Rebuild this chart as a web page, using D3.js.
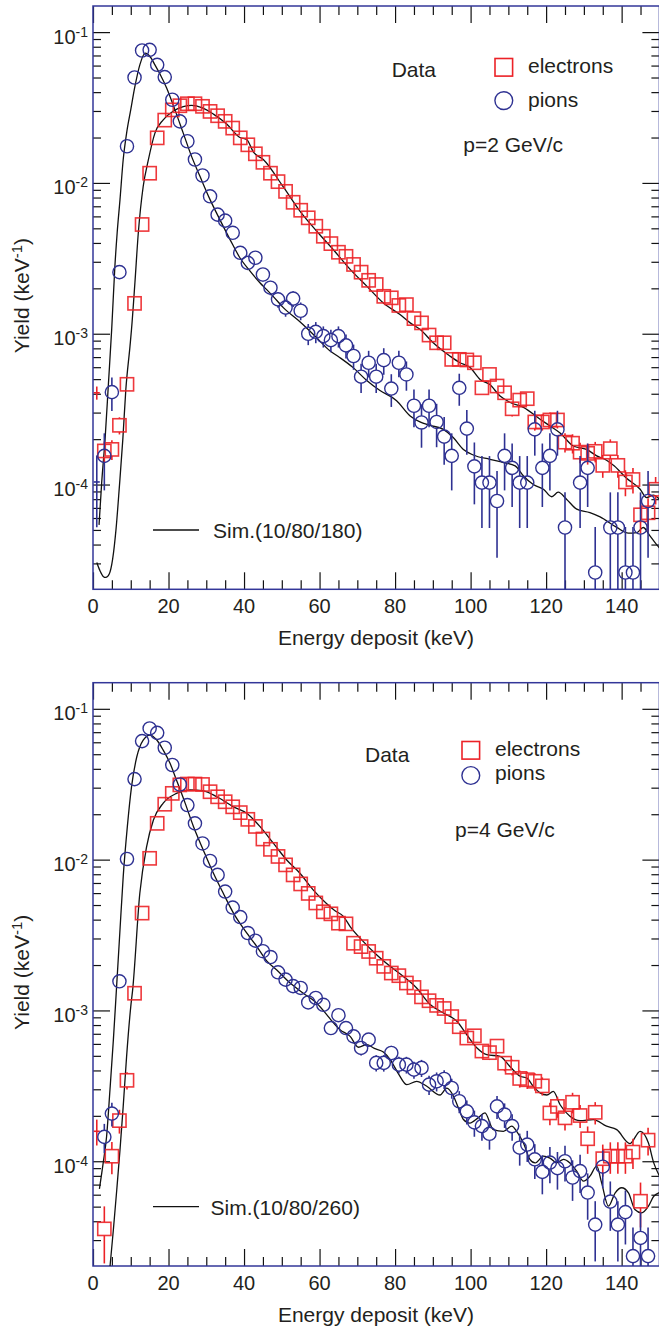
<!DOCTYPE html>
<html><head><meta charset="utf-8">
<script src="https://cdn.jsdelivr.net/npm/d3@7"></script>
<style>
body{margin:0;background:#fff}
svg{display:block}
text{font-family:"Liberation Sans",Arial,Helvetica,sans-serif;fill:#231f20}
</style>
</head><body>
<script>
// ---------------- DATA ----------------
const xDomain = [0, 150];
const yDomain = [2.02e-5, 0.149];
const xMajorTicks = [0, 20, 40, 60, 80, 100, 120, 140];
const xTickLabels = ["0", "20", "40", "60", "80", "100", "120", "140"];
const yMajorTicks = [1e-4, 1e-3, 1e-2, 1e-1];
const yTickExponents = ["-4", "-3", "-2", "-1"];
const xTitle = "Energy deposit (keV)";
const yTitle = "Yield (keV";
const legendData = "Data";
const seriesNames = ["electrons", "pions"];
const momentumLabels = ["p=2 GeV/c", "p=4 GeV/c"];
const simLabels = ["Sim.(10/80/180)", "Sim.(10/80/260)"];

// [energy keV, yield, relative error]
const pions1 = [[1,1.04e-4,0.5],[3,1.55e-4,0.41],[5,4.1e-4,0.25],[7,2.56e-3,0.1],[9,1.75e-2,0.04],[11,5.0e-2,0.023],[13,7.55e-2,0.019],[15,7.63e-2,0.018],[17,6.07e-2,0.021],[19,5.03e-2,0.023],[21,3.56e-2,0.027],[23,2.56e-2,0.032],[25,1.89e-2,0.037],[27,1.43e-2,0.043],[29,1.12e-2,0.048],[31,8.15e-3,0.056],[33,6.16e-3,0.065],[35,5.62e-3,0.068],[37,4.67e-3,0.075],[39,3.44e-3,0.087],[41,2.95e-3,0.094],[43,3.19e-3,0.09],[45,2.47e-3,0.1],[47,2.02e-3,0.11],[49,1.69e-3,0.12],[51,1.49e-3,0.13],[53,1.71e-3,0.12],[55,1.42e-3,0.135],[57,1.0e-3,0.16],[59,1.03e-3,0.16],[61,9.64e-4,0.16],[63,9.07e-4,0.17],[65,9.64e-4,0.16],[67,8.37e-4,0.18],[69,7.12e-4,0.19],[71,5.19e-4,0.22],[73,6.42e-4,0.2],[75,5.19e-4,0.22],[77,6.68e-4,0.2],[79,4.33e-4,0.245],[81,6.42e-4,0.2],[83,5.37e-4,0.22],[85,3.33e-4,0.28],[87,2.58e-4,0.32],[89,3.33e-4,0.28],[91,2.6e-4,0.32],[93,2.08e-4,0.35],[95,1.55e-4,0.41],[97,4.38e-4,0.24],[99,2.35e-4,0.33],[101,1.32e-4,0.44],[103,1.03e-4,0.5],[105,1.03e-4,0.5],[107,7.78e-5,0.58],[109,1.55e-4,0.41],[111,1.29e-4,0.45],[113,1.03e-4,0.5],[115,1.03e-4,0.5],[117,2.32e-4,0.33],[119,1.29e-4,0.45],[121,1.55e-4,0.41],[123,2.32e-4,0.33],[125,5.19e-5,0.71],[129,1.03e-4,0.5],[131,1.29e-4,0.45],[133,2.61e-5,1.0],[137,5.19e-5,0.71],[139,5.19e-5,0.71],[141,2.61e-5,1.0],[143,2.61e-5,1.0],[145,5.19e-5,0.71],[147,7.78e-5,0.58]];

const electrons1 = [[1,4.06e-4,0.1],[3,1.67e-4,0.155],[5,1.71e-4,0.15],[7,2.47e-4,0.13],[9,4.62e-4,0.093],[11,1.59e-3,0.05],[13,5.3e-3,0.027],[15,1.16e-2,0.019],[17,1.99e-2,0.014],[19,2.61e-2,0.012],[21,3.05e-2,0.011],[23,3.25e-2,0.011],[25,3.35e-2,0.011],[27,3.35e-2,0.011],[29,3.22e-2,0.011],[31,2.98e-2,0.012],[33,2.79e-2,0.012],[35,2.56e-2,0.013],[37,2.31e-2,0.013],[39,1.99e-2,0.014],[41,1.79e-2,0.015],[43,1.56e-2,0.016],[45,1.37e-2,0.017],[47,1.16e-2,0.019],[49,1.02e-2,0.02],[51,8.79e-3,0.021],[53,7.44e-3,0.023],[55,6.59e-3,0.025],[57,5.87e-3,0.026],[59,5.16e-3,0.028],[61,4.43e-3,0.03],[63,3.96e-3,0.032],[65,3.47e-3,0.034],[67,3.26e-3,0.035],[69,2.88e-3,0.037],[71,2.56e-3,0.04],[73,2.26e-3,0.042],[75,2.12e-3,0.043],[77,1.77e-3,0.048],[79,1.73e-3,0.048],[81,1.54e-3,0.051],[83,1.56e-3,0.051],[85,1.26e-3,0.056],[87,1.18e-3,0.058],[89,9.8e-4,0.064],[91,8.71e-4,0.068],[93,8.71e-4,0.068],[95,6.76e-4,0.077],[97,6.76e-4,0.077],[99,6.7e-4,0.077],[101,6.42e-4,0.079],[103,4.38e-4,0.096],[105,5.37e-4,0.086],[107,4.5e-4,0.094],[109,4.06e-4,0.099],[111,3.18e-4,0.11],[113,3.63e-4,0.105],[115,3.71e-4,0.104],[117,2.6e-4,0.124],[119,2.6e-4,0.124],[121,2.68e-4,0.122],[123,2.68e-4,0.122],[125,1.91e-4,0.145],[127,1.88e-4,0.146],[129,1.64e-4,0.156],[131,1.61e-4,0.158],[133,1.66e-4,0.155],[135,1.34e-4,0.173],[137,1.73e-4,0.152],[139,1.34e-4,0.173],[141,1.04e-4,0.196],[143,1.08e-4,0.192],[145,6.3e-5,0.25],[147,6.5e-5,0.248],[149,9.3e-5,0.207]];

const pions2 = [[3,1.45e-4,0.22],[5,2.07e-4,0.18],[7,1.56e-3,0.067],[9,1.01e-2,0.026],[11,3.42e-2,0.014],[13,6.11e-2,0.011],[15,7.41e-2,0.01],[17,6.93e-2,0.01],[19,5.52e-2,0.011],[21,4.24e-2,0.013],[23,3.15e-2,0.015],[25,2.3e-2,0.017],[27,1.74e-2,0.02],[29,1.28e-2,0.023],[31,9.8e-3,0.027],[33,7.92e-3,0.03],[35,6.14e-3,0.034],[37,4.81e-3,0.038],[39,4.16e-3,0.041],[41,3.26e-3,0.046],[43,2.9e-3,0.049],[45,2.47e-3,0.053],[47,2.26e-3,0.056],[49,1.79e-3,0.063],[51,1.6e-3,0.066],[53,1.45e-3,0.069],[55,1.41e-3,0.07],[57,1.13e-3,0.079],[59,1.21e-3,0.076],[61,1.09e-3,0.08],[63,7.64e-4,0.096],[65,9.3e-4,0.087],[67,7.64e-4,0.096],[69,6.73e-4,0.1],[71,5.64e-4,0.11],[73,6.4e-4,0.105],[75,4.49e-4,0.125],[77,4.49e-4,0.125],[79,5.22e-4,0.116],[81,4.37e-4,0.127],[83,4.37e-4,0.127],[85,4.05e-4,0.13],[87,4.16e-4,0.13],[89,3.22e-4,0.147],[91,3.39e-4,0.144],[93,3.51e-4,0.141],[95,3.06e-4,0.151],[97,2.5e-4,0.167],[99,2.14e-4,0.18],[101,1.81e-4,0.197],[103,1.71e-4,0.2],[105,1.52e-4,0.215],[107,2.31e-4,0.174],[109,2.04e-4,0.185],[111,1.71e-4,0.2],[113,1.23e-4,0.24],[115,1.29e-4,0.233],[117,1.03e-4,0.26],[119,8.5e-5,0.29],[121,9.8e-5,0.27],[123,9.0e-5,0.28],[125,1.0e-4,0.265],[127,7.8e-5,0.3],[129,8.6e-5,0.285],[131,6.2e-5,0.34],[133,3.8e-5,0.43],[135,9.2e-5,0.28],[137,5.4e-5,0.36],[139,3.8e-5,0.43],[141,4.6e-5,0.39],[143,2.35e-5,0.55],[145,3.1e-5,0.48],[147,2.35e-5,0.55]];

const electrons2 = [[1,1.58e-4,0.195],[3,3.56e-5,0.41],[5,1.08e-4,0.24],[7,1.86e-4,0.18],[9,3.44e-4,0.13],[11,1.3e-3,0.068],[13,4.42e-3,0.037],[15,1.02e-2,0.024],[17,1.74e-2,0.019],[19,2.33e-2,0.016],[21,2.75e-2,0.015],[23,3.13e-2,0.014],[25,3.17e-2,0.014],[27,3.17e-2,0.014],[29,3.15e-2,0.014],[31,2.82e-2,0.015],[33,2.61e-2,0.015],[35,2.42e-2,0.016],[37,2.24e-2,0.016],[39,2.05e-2,0.017],[41,1.85e-2,0.018],[43,1.66e-2,0.019],[45,1.37e-2,0.021],[47,1.17e-2,0.023],[49,1.05e-2,0.024],[51,9.23e-3,0.025],[53,7.92e-3,0.028],[55,6.9e-3,0.029],[57,5.97e-3,0.032],[59,5.16e-3,0.034],[61,4.51e-3,0.036],[63,4.37e-3,0.037],[65,3.79e-3,0.04],[67,3.75e-3,0.04],[69,2.79e-3,0.046],[71,2.65e-3,0.048],[73,2.46e-3,0.049],[75,2.22e-3,0.052],[77,1.96e-3,0.055],[79,1.77e-3,0.058],[81,1.7e-3,0.059],[83,1.52e-3,0.063],[85,1.42e-3,0.065],[87,1.23e-3,0.07],[89,1.16e-3,0.072],[91,1.08e-3,0.075],[93,1.03e-3,0.076],[95,9.1e-4,0.081],[97,7.8e-4,0.088],[99,6.56e-4,0.096],[101,6.79e-4,0.094],[103,5.38e-4,0.106],[105,5.25e-4,0.107],[107,5.8e-4,0.102],[109,4.47e-4,0.116],[111,4.2e-4,0.12],[113,3.54e-4,0.13],[115,3.47e-4,0.131],[117,3.39e-4,0.133],[119,3.16e-4,0.138],[121,2.09e-4,0.17],[123,2.31e-4,0.16],[125,1.94e-4,0.176],[127,2.46e-4,0.156],[129,2.01e-4,0.173],[131,1.41e-4,0.206],[133,2.11e-4,0.169],[135,1.04e-4,0.24],[137,1.08e-4,0.236],[139,1.08e-4,0.236],[141,1.08e-4,0.236],[143,1.15e-4,0.228],[145,5.43e-5,0.33],[147,1.38e-4,0.208]];

// simulation curves [energy keV, yield]
const simPion1 = [[1.6,5.4e-5],[2.3,1.03e-4],[3.2,2.0e-4],[4.1,4.73e-4],[4.95,1.07e-3],[5.8,2.81e-3],[6.4,4.67e-3],[7.15,7.75e-3],[8.0,1.43e-2],[8.9,2.14e-2],[10,3.06e-2],[11.1,4.36e-2],[12.4,6.07e-2],[13.85,7.26e-2],[15.1,6.89e-2],[16.4,6.07e-2],[17.7,5.29e-2],[19.5,4.26e-2],[21.7,3.05e-2],[23.9,2.14e-2],[26.1,1.5e-2],[28.3,1.11e-2],[31,7.75e-3],[33.6,5.71e-3],[36.3,4.21e-3],[38.9,3.19e-3],[41.6,2.6e-3],[44.2,2.18e-3],[46,1.96e-3],[47.7,1.77e-3],[50.4,1.49e-3],[54.8,1.2e-3],[59.2,9.42e-4],[62.8,7.68e-4],[65.4,6.94e-4],[68.9,5.96e-4],[72.5,4.9e-4],[76,4.2e-4],[80.4,3.6e-4],[84,2.85e-4],[86.6,2.6e-4],[89.2,2.47e-4],[92.8,2.32e-4],[95.4,2.05e-4],[98.1,1.71e-4],[100.7,1.57e-4],[105.1,1.47e-4],[108.7,1.4e-4],[111.8,1.33e-4],[114,1.14e-4],[116.6,1.0e-4],[119.3,9.31e-5],[121.5,8.3e-5],[123.2,8.9e-5],[125.4,8.0e-5],[128.1,6.87e-5],[131.6,6.52e-5],[134.3,6.1e-5],[138.7,5.2e-5],[141.8,4.76e-5],[144,4.8e-5],[145.7,5.19e-5],[147.5,4.57e-5],[148.8,4.13e-5],[150,3.8e-5]];

const simElec1 = [[1.0,3.04e-5],[1.85,2.68e-5],[2.7,2.46e-5],[3.4,2.42e-5],[4.3,2.55e-5],[5.2,3.2e-5],[6.1,5.06e-5],[7.0,9.8e-5],[7.9,2.0e-4],[8.7,4.28e-4],[9.8,8.28e-4],[10.2,1.07e-3],[11.1,2.18e-3],[12.0,4.67e-3],[13.3,9.5e-3],[14.6,1.4e-2],[16.4,2.14e-2],[18.6,2.62e-2],[21.3,3.0e-2],[23.9,3.2e-2],[26.1,3.27e-2],[28.8,3.16e-2],[31.9,2.86e-2],[35.4,2.46e-2],[38.9,2.0e-2],[40.7,1.94e-2],[42.5,1.6e-2],[45.1,1.43e-2],[50.4,9.4e-3],[54.8,6.5e-3],[59.2,4.8e-3],[63.6,3.62e-3],[68.1,2.67e-3],[72.5,2.07e-3],[76.9,1.6e-3],[81.3,1.34e-3],[84,1.18e-3],[86.6,1.07e-3],[90.1,8.71e-4],[94.5,7.12e-4],[97.2,6.42e-4],[99.8,6.0e-4],[102.5,4.98e-4],[105.1,4.6e-4],[107.8,3.86e-4],[110.5,3.5e-4],[114,3.25e-4],[118.4,2.71e-4],[121,2.45e-4],[123.7,2.2e-4],[127.2,1.8e-4],[130.7,1.71e-4],[133.4,1.55e-4],[136,1.45e-4],[138,1.33e-4],[141.3,1.1e-4],[144.9,9.31e-5],[146.6,8.2e-5],[148.4,8.5e-5],[150,8.0e-5]];

const simPion2 = [[1.7,6.56e-5],[2.7,9.75e-5],[3.6,1.46e-4],[4.5,2.99e-4],[5.4,6.4e-4],[6.2,1.37e-3],[7.2,3.6e-3],[8.0,7.71e-3],[9.1,1.66e-2],[10.2,3.04e-2],[11.6,4.81e-2],[13.3,6.21e-2],[15.1,6.7e-2],[16.9,6.21e-2],[18.6,5.32e-2],[20.4,4.35e-2],[22.1,3.37e-2],[24.4,2.37e-2],[26.6,1.66e-2],[29.2,1.16e-2],[31.9,8.12e-3],[34.5,5.98e-3],[37.2,4.42e-3],[39.8,3.51e-3],[43.4,2.65e-3],[46,2.13e-3],[48.6,1.86e-3],[52.2,1.52e-3],[55.7,1.3e-3],[59.2,1.12e-3],[62.8,8.8e-4],[65.4,7.45e-4],[68.1,6.73e-4],[70.3,5.7e-4],[72.5,5.93e-4],[74.5,5.6e-4],[76.9,5.3e-4],[78.7,4.72e-4],[80.9,3.8e-4],[83.1,3.22e-4],[85.7,3.39e-4],[88.4,3.14e-4],[91.9,2.75e-4],[93.7,3.05e-4],[95.4,2.72e-4],[96.8,2.25e-4],[98.1,1.89e-4],[99.8,1.79e-4],[102,1.94e-4],[103.8,2.09e-4],[106,1.62e-4],[108.7,1.58e-4],[110.9,1.71e-4],[112.2,1.58e-4],[114,1.32e-4],[115.7,1.03e-4],[117.1,9.75e-5],[119.3,1.08e-4],[121,1.05e-4],[122.8,9.75e-5],[124.6,1.03e-4],[126.3,9.75e-5],[128.1,8.59e-5],[129.9,7.38e-5],[131.6,7.96e-5],[133.4,9.27e-5],[134.7,7.19e-5],[136.5,5.04e-5],[138.3,6.18e-5],[140,6.67e-5],[141.8,6.18e-5],[143.5,4.79e-5],[145.3,4.55e-5],[147.1,5.04e-5],[148.5,5.86e-5],[150,6.2e-5]];

const simElec2 = [[4.5,2.0e-5],[5.4,3.53e-5],[6.3,6.5e-5],[7.15,1.19e-4],[8.0,2.31e-4],[8.9,4.96e-4],[10,1.06e-3],[10.5,1.37e-3],[12.4,5.98e-3],[14.2,1.22e-2],[16,1.83e-2],[18.6,2.37e-2],[22.1,2.75e-2],[25.7,2.9e-2],[29.2,2.86e-2],[32.8,2.61e-2],[37.2,2.24e-2],[40.7,2.03e-2],[44.2,1.66e-2],[47.7,1.29e-2],[51.3,9.95e-3],[54.8,8.12e-3],[58.3,6.3e-3],[61.9,5.1e-3],[64,4.6e-3],[66.3,4.2e-3],[68.1,3.6e-3],[71.6,2.86e-3],[75.1,2.34e-3],[78.7,1.96e-3],[82.2,1.68e-3],[85.7,1.41e-3],[89.2,1.1e-3],[92.8,9.62e-4],[96.3,8.5e-4],[99,6.9e-4],[101.7,5.64e-4],[104.3,5.09e-4],[107.8,4.96e-4],[110.4,4.25e-4],[113.1,3.66e-4],[114.9,3.56e-4],[116.6,3.14e-4],[118.4,2.84e-4],[120.2,2.75e-4],[121.9,2.91e-4],[123.7,2.37e-4],[126.3,1.99e-4],[129,1.86e-4],[132.5,1.89e-4],[136,1.71e-4],[138.7,1.62e-4],[142.2,1.31e-4],[144.9,1.58e-4],[147.1,1.32e-4],[148.5,9.75e-5],[150,8.0e-5]];

// ---------------- LAYOUT ----------------
const W = 659, H = 1328;
const RED = "#ec2227", BLUE = "#2e3192", FRAME = "#333799";
const FS = 21, FS_TICK = 20;
const svg = d3.select("body").append("svg").attr("width", W).attr("height", H);
const x = d3.scaleLinear().domain(xDomain).range([93, 659.4]);

const panels = [
  {top: 6, bottom: 589.3, pions: pions1, electrons: electrons1, simP: simPion1, simE: simElec1,
   mom: momentumLabels[0], sim: simLabels[0],
   leg: {dataX: 391.7, dataY: 76.7, mX: 503.8, sqY: 67.3, ciY: 100.6, tX: 528, eY: 73.3, pY: 106.7,
         momX: 463.3, momY: 151.7, lx1: 153, lx2: 199, ly: 530, stX: 213, stY: 538.3}},
  {top: 682.7, bottom: 1266, pions: pions2, electrons: electrons2, simP: simPion2, simE: simElec2,
   mom: momentumLabels[1], sim: simLabels[1],
   leg: {dataX: 365, dataY: 761.7, mX: 470.8, sqY: 750.3, ciY: 775.5, tX: 495, eY: 756, pY: 780,
         momX: 455, momY: 836.7, lx1: 153, lx2: 199, ly: 1206.7, stX: 210.5, stY: 1215}}
];

const HS = 6.6; // marker half size

panels.forEach((P, i) => {
  const y = d3.scaleLog().domain(yDomain).range([P.bottom, P.top]);
  const g = svg.append("g");
  const clipId = "clip" + i;
  svg.append("defs").append("clipPath").attr("id", clipId)
    .append("rect").attr("x", 93).attr("y", P.top).attr("width", 566.4).attr("height", P.bottom - P.top);

  // --- ticks via d3 axes ---
  const xMinor = d3.range(0, 151, 5).filter(v => v % 20 !== 0);
  const yMinor = [];
  [1e-5, 1e-4, 1e-3, 1e-2, 1e-1].forEach(d => { for (let m = 2; m <= 9; m++) { const v = m * d; if (v > yDomain[0] && v < yDomain[1]) yMinor.push(v); } });
  const styleAxis = sel => { sel.select(".domain").remove(); sel.selectAll(".tick line").attr("stroke", "#111").attr("stroke-width", 1.2); };
  g.append("g").attr("transform", `translate(0,${P.bottom})`).call(d3.axisTop(x).tickValues(xMinor).tickSize(9).tickFormat("")).call(styleAxis);
  g.append("g").attr("transform", `translate(0,${P.bottom})`).call(d3.axisTop(x).tickValues(xMajorTicks).tickSize(17).tickFormat("")).call(styleAxis);
  g.append("g").attr("transform", `translate(0,${P.top})`).call(d3.axisBottom(x).tickValues(xMinor).tickSize(9).tickFormat("")).call(styleAxis);
  g.append("g").attr("transform", `translate(0,${P.top})`).call(d3.axisBottom(x).tickValues(xMajorTicks).tickSize(17).tickFormat("")).call(styleAxis);
  g.append("g").attr("transform", `translate(93,0)`).call(d3.axisRight(y).tickValues(yMinor).tickSize(8).tickFormat("")).call(styleAxis);
  g.append("g").attr("transform", `translate(93,0)`).call(d3.axisRight(y).tickValues(yMajorTicks).tickSize(17).tickFormat("")).call(styleAxis);
  g.append("g").attr("transform", `translate(659.4,0)`).call(d3.axisLeft(y).tickValues(yMinor).tickSize(8).tickFormat("")).call(styleAxis);
  g.append("g").attr("transform", `translate(659.4,0)`).call(d3.axisLeft(y).tickValues(yMajorTicks).tickSize(17).tickFormat("")).call(styleAxis);

  // frame
  g.append("rect").attr("x", 93).attr("y", P.top).attr("width", 566.4).attr("height", P.bottom - P.top)
    .attr("fill", "none").attr("stroke", FRAME).attr("stroke-width", 1.5);

  // tick labels
  g.selectAll(".xl").data(xMajorTicks).enter().append("text")
    .attr("x", d => x(d)).attr("y", P.bottom + 23.7).attr("text-anchor", "middle")
    .attr("font-size", FS_TICK).text((d, k) => xTickLabels[k]);
  yMajorTicks.forEach((v, k) => {
    const t = g.append("text").attr("x", 88).attr("y", y(v) + 11.5).attr("text-anchor", "end").attr("font-size", FS_TICK);
    t.append("tspan").text("10");
    t.append("tspan").attr("font-size", 14).attr("dy", -7).text(yTickExponents[k]);
  });

  // axis titles
  g.append("text").attr("x", 376).attr("y", P.bottom + 55.8).attr("text-anchor", "middle").attr("font-size", FS).text(xTitle);
  const yt = g.append("text").attr("transform", `translate(29,${(P.top + P.bottom) / 2 - 2}) rotate(-90)`)
    .attr("text-anchor", "middle").attr("font-size", FS);
  yt.append("tspan").text(yTitle);
  yt.append("tspan").attr("font-size", 15).attr("dy", -7).text("-1");
  yt.append("tspan").attr("dy", 7).text(")");

  // sim curves
  const line = d3.line().x(d => x(d[0])).y(d => y(d[1])).curve(d3.curveMonotoneX);
  const cg = g.append("g").attr("clip-path", `url(#${clipId})`);
  [P.simP, P.simE].forEach(s => cg.append("path").attr("d", line(s)).attr("fill", "none").attr("stroke", "#111").attr("stroke-width", 1.3));

  // error bars + markers
  function drawSeries(data, color, shape) {
    const eg = cg.append("g").attr("stroke", color).attr("stroke-width", 1.6);
    data.forEach(d => {
      const cx = x(d[0]), cy = y(d[1]);
      const hi = y(d[1] * (1 + d[2]));
      const loV = d[1] * (1 - d[2]);
      const lo = loV > yDomain[0] ? y(loV) : P.bottom;
      const noMarker = d[0] < 2;
      if (noMarker) {
        eg.append("line").attr("x1", cx).attr("x2", cx).attr("y1", hi).attr("y2", lo);
        eg.append("line").attr("x1", cx - 3).attr("x2", cx + 3).attr("y1", cy).attr("y2", cy);
        return;
      }
      if (hi < cy - HS) eg.append("line").attr("x1", cx).attr("x2", cx).attr("y1", hi).attr("y2", cy - HS);
      if (lo > cy + HS) eg.append("line").attr("x1", cx).attr("x2", cx).attr("y1", cy + HS).attr("y2", lo);
    });
    const mg = cg.append("g").attr("fill", "none").attr("stroke", color);
    const pts = data.filter(d => d[0] >= 2);
    if (shape === "square") {
      mg.attr("stroke-width", 1.6).attr("stroke-opacity", 0.9).selectAll("rect").data(pts).enter().append("rect")
        .attr("x", d => x(d[0]) - HS).attr("y", d => y(d[1]) - HS).attr("width", 2 * HS).attr("height", 2 * HS);
    } else {
      mg.attr("stroke-width", 1.4).selectAll("circle").data(pts).enter().append("circle")
        .attr("cx", d => x(d[0])).attr("cy", d => y(d[1])).attr("r", HS);
    }
  }
  drawSeries(P.electrons, RED, "square");
  drawSeries(P.pions, BLUE, "circle");

  // legend
  const L = P.leg;
  g.append("text").attr("x", L.dataX).attr("y", L.dataY).attr("font-size", FS).text(legendData);
  g.append("rect").attr("x", L.mX - 8.8).attr("y", L.sqY - 8.8).attr("width", 17.6).attr("height", 17.6)
    .attr("fill", "none").attr("stroke", RED).attr("stroke-width", 1.6);
  g.append("circle").attr("cx", L.mX).attr("cy", L.ciY).attr("r", 8.9)
    .attr("fill", "none").attr("stroke", BLUE).attr("stroke-width", 1.4);
  g.append("text").attr("x", L.tX).attr("y", L.eY).attr("font-size", FS).text(seriesNames[0]);
  g.append("text").attr("x", L.tX).attr("y", L.pY).attr("font-size", FS).text(seriesNames[1]);
  g.append("text").attr("x", L.momX).attr("y", L.momY).attr("font-size", FS).text(P.mom);
  g.append("line").attr("x1", L.lx1).attr("x2", L.lx2).attr("y1", L.ly).attr("y2", L.ly).attr("stroke", "#111").attr("stroke-width", 1.3);
  g.append("text").attr("x", L.stX).attr("y", L.stY).attr("font-size", FS).text(P.sim);
});
</script>
</body></html>
